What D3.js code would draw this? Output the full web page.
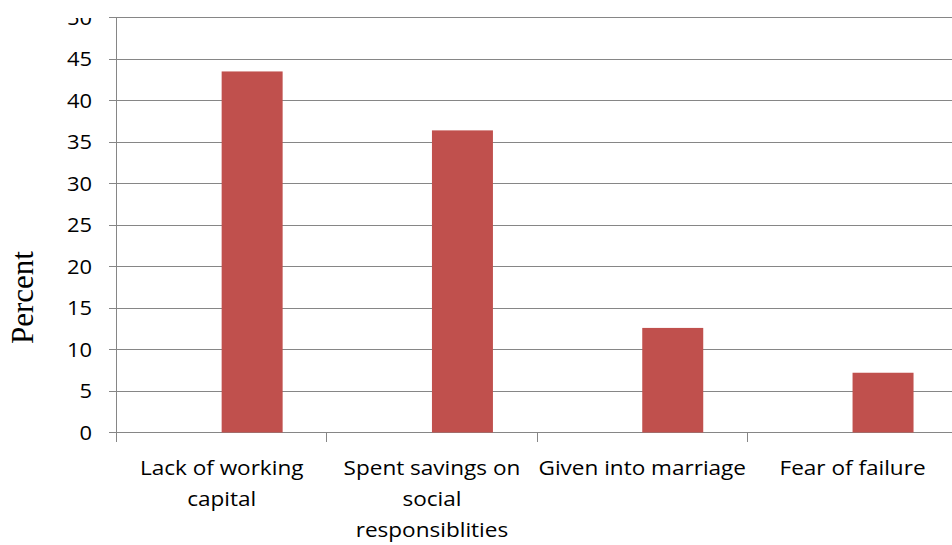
<!DOCTYPE html>
<html><head><meta charset="utf-8">
<script src="https://cdn.jsdelivr.net/npm/d3@7"></script>
<style>html,body{margin:0;padding:0;background:#fff;overflow:hidden}</style>
</head><body>
<svg id="c" width="952" height="545"></svg>
<script>
const categories = ["Lack of working capital","Spent savings on social responsiblities","Given into marriage","Fear of failure"];
const labelLines = [["Lack of working","capital"],["Spent savings on","social","responsiblities"],["Given into marriage"],["Fear of failure"]];
const values = [43.5, 36.4, 12.6, 7.2];
const yTicks = [0,5,10,15,20,25,30,35,40,45,50];
const yTitle = "Percent";

const svg = d3.select("#c");
const y = d3.scaleLinear().domain([0,50]).range([432.5,17.5]);
const x = d3.scaleBand().domain(categories).range([116.5, 116.5 + 4*210.3]).padding(0);
const bw = x.bandwidth();
const grid = "#868686";
const font = "'Open Sans', Lato, sans-serif";
const stretch = 1.1;

svg.append("defs").append("clipPath").attr("id","topclip")
  .append("rect").attr("x",-200).attr("y",18).attr("width",1200).attr("height",545);

// gridlines
svg.append("g").selectAll("line").data(yTicks).join("line")
  .attr("x1",109).attr("x2",952)
  .attr("y1",d=>y(d)).attr("y2",d=>y(d))
  .attr("stroke",grid).attr("stroke-width",1).attr("shape-rendering","crispEdges");

// y axis line
svg.append("line").attr("x1",116.5).attr("x2",116.5).attr("y1",y(50)).attr("y2",y(0)+0.5)
  .attr("stroke",grid).attr("shape-rendering","crispEdges");

// x ticks at band boundaries
const bounds = categories.map(c=>x(c)).concat([x(categories[3])+bw]);
svg.append("g").selectAll("line").data(bounds).join("line")
  .attr("x1",d=>d).attr("x2",d=>d).attr("y1",y(0)).attr("y2",y(0)+9)
  .attr("stroke",grid).attr("shape-rendering","crispEdges");

// bars
svg.append("g").selectAll("rect").data(values).join("rect")
  .attr("x",(d,i)=>x(categories[i]) + bw*0.5)
  .attr("width",bw*0.29)
  .attr("y",d=>y(d)).attr("height",d=>y(0)-y(d))
  .attr("fill","#C0504D");

// y tick labels
svg.append("g").attr("clip-path","url(#topclip)").selectAll("text").data(yTicks).join("text")
  .attr("transform",d=>`translate(92,${y(d)}) scale(1.07,1)`)
  .attr("dy","0.36em")
  .attr("text-anchor","end")
  .attr("font-family",font).attr("font-size",20.5)
  .attr("fill","#000").text(d=>d);

// x labels
const xl = svg.append("g").selectAll("text").data(categories).join("text")
  .attr("transform",c=>`translate(${x(c)+bw/2},0) scale(${stretch},1)`)
  .attr("text-anchor","middle")
  .attr("font-family",font).attr("font-size",20.5)
  .attr("fill","#000");
xl.each(function(c,i){
  const t = d3.select(this);
  labelLines[i].forEach((ln,j)=>{
    t.append("tspan").attr("x",0).attr("y",475 + j*31).text(ln);
  });
});

// y title
svg.append("text").attr("transform","translate(33,297.5) rotate(-90)")
  .attr("text-anchor","middle")
  .attr("font-family","'Liberation Serif','Times New Roman',serif").attr("font-size",31)
  .attr("fill","#000").text(yTitle);
</script>
</body></html>
